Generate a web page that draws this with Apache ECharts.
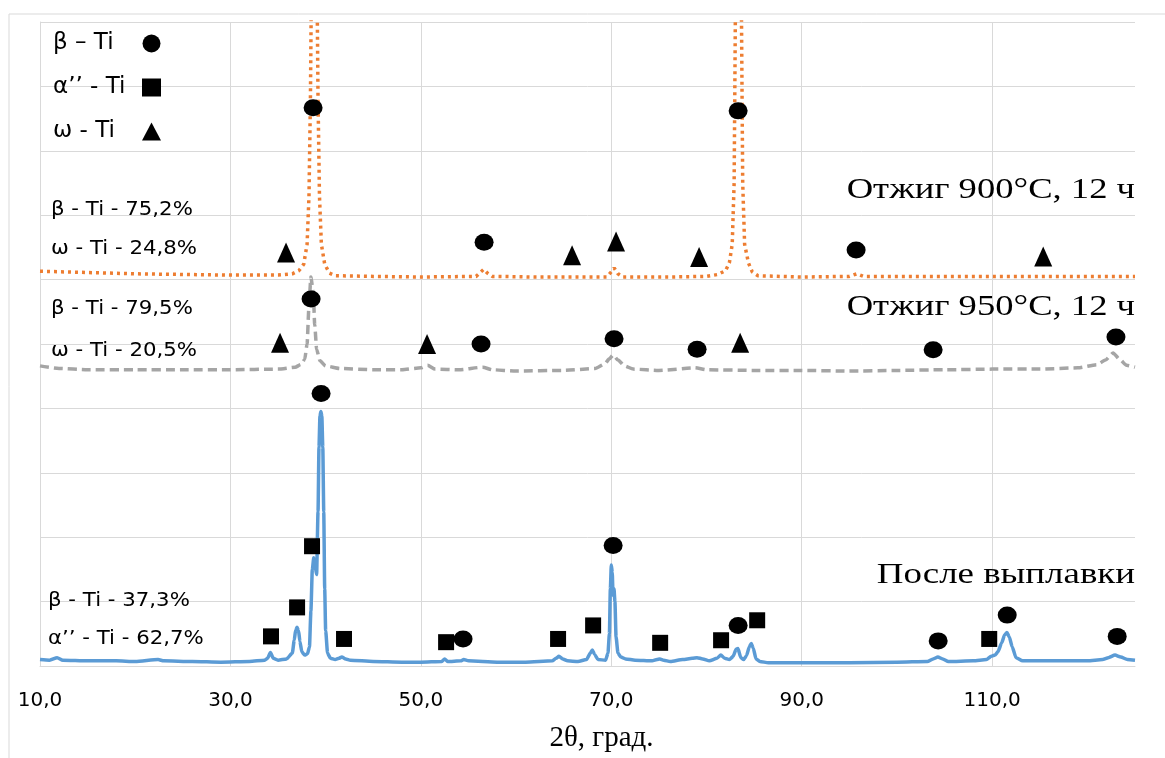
<!DOCTYPE html>
<html>
<head>
<meta charset="utf-8">
<script src="https://cdn.jsdelivr.net/npm/echarts@6/dist/echarts.min.js"></script>
<style>
  html, body { margin: 0; padding: 0; background: #fff; }
  #chart { width: 1165px; height: 758px; }
</style>
</head>
<body>
<div id="chart"></div>
<script>
// 2θ axis ticks
const xTicks = [10, 30, 50, 70, 90, 110];

// after melting (blue) : [2θ, intensity]
const afterMelt = [
  [10.0, 0.10], [11.0, 0.09], [11.8, 0.13], [12.4, 0.09], [15.0, 0.08], [18.0, 0.08], [20.0, 0.07],
  [22.4, 0.10], [23.0, 0.08], [26.0, 0.07], [29.0, 0.06], [32.0, 0.07], [33.6, 0.09], [33.9, 0.12],
  [34.2, 0.21], [34.5, 0.12], [35.0, 0.09], [35.9, 0.11], [36.5, 0.20], [36.7, 0.40], [36.85, 0.56],
  [37.0, 0.60], [37.15, 0.55], [37.3, 0.38], [37.5, 0.22], [37.8, 0.17], [38.1, 0.19], [38.3, 0.30],
  [38.45, 0.85], [38.6, 1.50], [38.75, 1.68], [38.9, 1.55], [39.05, 1.42], [39.2, 2.40], [39.3, 3.40],
  [39.4, 3.88], [39.5, 3.95], [39.6, 3.88], [39.7, 3.40], [39.8, 2.40], [39.9, 1.20], [40.0, 0.55],
  [40.2, 0.20], [40.5, 0.12], [41.0, 0.10], [41.4, 0.12], [41.7, 0.14], [42.1, 0.11], [42.6, 0.09],
  [45.0, 0.07], [48.0, 0.06], [50.0, 0.06], [52.2, 0.07], [52.5, 0.11], [52.8, 0.07], [54.2, 0.08],
  [54.5, 0.10], [55.0, 0.08], [58.0, 0.06], [61.0, 0.06], [63.8, 0.08], [64.2, 0.12], [64.5, 0.15],
  [64.9, 0.11], [65.4, 0.08], [66.5, 0.07], [67.4, 0.10], [67.8, 0.20], [68.0, 0.25], [68.25, 0.18],
  [68.6, 0.10], [69.4, 0.09], [69.65, 0.20], [69.8, 0.50], [69.9, 1.20], [70.0, 1.57], [70.1, 1.45],
  [70.18, 1.10], [70.28, 1.20], [70.38, 1.00], [70.5, 0.45], [70.7, 0.20], [71.0, 0.14], [71.5, 0.11],
  [72.5, 0.09], [74.3, 0.08], [74.8, 0.10], [75.1, 0.11], [75.5, 0.09], [76.2, 0.07], [77.5, 0.10],
  [78.5, 0.12], [79.0, 0.13], [79.6, 0.11], [80.3, 0.08], [81.1, 0.12], [81.5, 0.17], [81.9, 0.12],
  [82.4, 0.10], [82.8, 0.15], [83.1, 0.26], [83.3, 0.27], [83.6, 0.13], [83.9, 0.10], [84.2, 0.16],
  [84.5, 0.30], [84.7, 0.35], [84.9, 0.28], [85.2, 0.11], [85.6, 0.07], [86.5, 0.05], [90.0, 0.05],
  [95.0, 0.05], [100.0, 0.06], [103.2, 0.07], [103.8, 0.11], [104.3, 0.14], [104.8, 0.11], [105.4, 0.07],
  [108.0, 0.08], [109.4, 0.10], [109.9, 0.15], [110.3, 0.17], [110.6, 0.22], [111.0, 0.36], [111.3, 0.48],
  [111.55, 0.52], [111.8, 0.45], [112.1, 0.30], [112.5, 0.13], [113.2, 0.08], [117.0, 0.08],
  [120.0, 0.08], [121.6, 0.10], [122.2, 0.13], [122.9, 0.17], [123.5, 0.14], [124.2, 0.10], [125.0, 0.09]
];

// annealed 950°C (grey)
const anneal950 = [
  [10.0, 4.66], [12.0, 4.62], [15.0, 4.60], [20.0, 4.60], [25.0, 4.60], [30.0, 4.60], [35.0, 4.61],
  [36.8, 4.64], [37.4, 4.68], [37.8, 4.76], [38.05, 5.00], [38.25, 5.60], [38.45, 6.04], [38.7, 5.80],
  [38.85, 5.30], [39.05, 4.92], [39.4, 4.74], [40.0, 4.66], [41.5, 4.62], [45.0, 4.60], [48.0, 4.60],
  [50.0, 4.63], [50.7, 4.67], [51.5, 4.61], [54.0, 4.60], [56.5, 4.64], [57.5, 4.60], [60.0, 4.58],
  [65.0, 4.59], [68.3, 4.62], [69.3, 4.69], [69.8, 4.77], [70.2, 4.83], [70.7, 4.75], [71.4, 4.66],
  [72.3, 4.61], [75.0, 4.59], [78.8, 4.63], [80.0, 4.60], [85.0, 4.59], [90.0, 4.59], [95.0, 4.58],
  [100.0, 4.59], [105.0, 4.60], [110.0, 4.61], [115.0, 4.61], [119.0, 4.63], [121.0, 4.68], [121.9, 4.75],
  [122.7, 4.86], [123.4, 4.76], [124.1, 4.67], [125.0, 4.64]
];

// annealed 900°C (orange), two main peaks run off the top
const anneal900 = [
  [10.0, 6.13], [15.0, 6.11], [20.0, 6.09], [25.0, 6.08], [30.0, 6.07], [35.0, 6.07], [36.5, 6.09],
  [37.2, 6.14], [37.7, 6.24], [38.05, 6.55], [38.25, 7.30], [38.4, 8.80], [38.5, 10.5], [38.8, 30.0],
  [39.1, 10.5], [39.2, 8.80], [39.35, 7.30], [39.55, 6.55], [39.9, 6.24], [40.4, 6.10], [41.0, 6.06],
  [45.0, 6.05], [50.0, 6.04], [55.8, 6.05], [56.3, 6.12], [56.6, 6.16], [57.0, 6.10], [57.5, 6.05],
  [62.0, 6.04], [69.5, 6.04], [70.0, 6.12], [70.3, 6.18], [70.7, 6.09], [71.2, 6.04], [76.0, 6.04],
  [80.0, 6.05], [81.2, 6.08], [82.0, 6.14], [82.4, 6.26], [82.7, 6.55], [82.9, 7.50], [83.05, 10.5],
  [83.35, 30.0], [83.65, 10.5], [83.8, 7.50], [84.0, 6.55], [84.4, 6.26], [84.8, 6.12], [85.4, 6.06],
  [90.0, 6.04], [95.0, 6.05], [95.8, 6.09], [96.5, 6.05], [105.0, 6.05], [115.0, 6.05], [125.0, 6.05]
];

// phase markers
const betaPts = [
  [38.68, 8.67], [83.32, 8.62], [56.64, 6.58], [95.71, 6.46],
  [38.47, 5.70], [56.32, 5.00], [70.29, 5.08], [79.01, 4.92], [103.8, 4.91], [123.0, 5.11],
  [39.52, 4.23], [54.43, 0.42], [70.19, 1.87], [83.32, 0.63], [104.33, 0.39], [111.58, 0.79], [123.13, 0.46]
];
const alphaPts = [
  [38.57, 1.86], [37.0, 0.91], [34.26, 0.46], [41.93, 0.42], [52.65, 0.37], [64.41, 0.42],
  [68.09, 0.63], [75.13, 0.36], [81.53, 0.40], [85.32, 0.71], [109.69, 0.42]
];
const omegaPts = [
  [35.84, 6.42], [65.88, 6.38], [70.50, 6.59], [79.22, 6.35], [115.36, 6.36],
  [35.21, 5.02], [50.65, 5.00], [83.53, 5.02]
];

const phaseNames = ['β – Ti', 'α’’ - Ti', 'ω - Ti'];
const sans = 'DejaVu Sans';
const serif = 'Liberation Serif';

const chart = echarts.init(document.getElementById('chart'));

const note = (txt, x, y) => ({
  type: 'text', x: x, y: y, scaleX: 1.12, z: 20,
  style: { text: txt, font: '19px "' + sans + '"', fill: '#000', align: 'left', verticalAlign: 'middle' }
});
const tag = (txt, y, sx) => ({
  type: 'text', x: 1135, y: y, scaleX: sx, z: 20,
  style: { text: txt, font: '30px "' + serif + '"', fill: '#000', align: 'right', verticalAlign: 'middle' }
});

chart.setOption({
  animation: false,
  backgroundColor: '#fff',
  grid: { left: 40, right: 30, top: 22, bottom: 90 },
  legend: {
    data: [
      { name: phaseNames[0], icon: 'circle' },
      { name: phaseNames[1], icon: 'rect' },
      { name: phaseNames[2], icon: 'triangle' }
    ],
    orient: 'vertical',
    align: 'right',
    left: 53, top: 32,
    padding: 0,
    itemWidth: 19, itemHeight: 18, itemGap: 21,
    selectedMode: false,
    formatter: n => '{t|' + n + '}',
    textStyle: {
      lineHeight: 18,
      rich: { t: { width: 84, lineHeight: 18, align: 'left', fontSize: 23, fontFamily: sans, color: '#000' } }
    }
  },
  xAxis: {
    type: 'value',
    min: 10, max: 125, interval: 20,
    name: '2θ, град.',
    nameLocation: 'middle',
    nameGap: 58,
    nameTextStyle: { fontFamily: serif, fontSize: 29, color: '#000', padding: [0, 0, 0, 28] },
    axisLine: { show: true, lineStyle: { color: '#d9d9d9', width: 1 } },
    axisTick: { show: false },
    axisLabel: {
      margin: 25, fontSize: 20, fontFamily: sans, color: '#000', showMaxLabel: false,
      formatter: v => xTicks.indexOf(v) >= 0 ? v.toFixed(1).replace('.', ',') : ''
    },
    splitLine: { show: true, showMaxLine: false, lineStyle: { color: '#d9d9d9', width: 1 } }
  },
  yAxis: {
    type: 'value',
    min: 0, max: 10, interval: 1,
    axisLine: { show: true, lineStyle: { color: '#d9d9d9', width: 1 } },
    axisTick: { show: false },
    axisLabel: { show: false },
    splitLine: { show: true, lineStyle: { color: '#d9d9d9', width: 1 } }
  },
  series: [
    {
      name: 'После выплавки', type: 'line', data: afterMelt, showSymbol: false, z: 3,
      smooth: 0.2, smoothMonotone: 'x',
      lineStyle: { color: '#5b9bd5', width: 3.5, join: 'round' }
    },
    {
      name: 'Отжиг 950°C, 12 ч', type: 'line', data: anneal950, showSymbol: false, z: 3,
      smooth: 0.2, smoothMonotone: 'x',
      lineStyle: { color: '#a5a5a5', width: 3.5, type: [9, 5] }
    },
    {
      name: 'Отжиг 900°C, 12 ч', type: 'line', data: anneal900, showSymbol: false, z: 3,
      lineStyle: { color: '#ed7d31', width: 3.5, type: [3, 4] }
    },
    {
      name: phaseNames[0], type: 'scatter', data: betaPts, z: 5,
      symbol: 'circle', symbolSize: [19, 17], itemStyle: { color: '#000', opacity: 1 }
    },
    {
      name: phaseNames[1], type: 'scatter', data: alphaPts, z: 5,
      symbol: 'rect', symbolSize: [16, 16], itemStyle: { color: '#000', opacity: 1 }
    },
    {
      name: phaseNames[2], type: 'scatter', data: omegaPts, z: 5,
      symbol: 'triangle', symbolSize: [18, 20], itemStyle: { color: '#000', opacity: 1 }
    }
  ],
  graphic: [
    { type: 'rect', z: -10, shape: { x: 9, y: 14, width: 1180, height: 780 },
      style: { fill: 'none', stroke: '#d9d9d9', lineWidth: 1 } },
    note('β - Ti - 75,2%', 51, 210),
    note('ω - Ti - 24,8%', 51, 249),
    note('β - Ti - 79,5%', 51, 309),
    note('ω - Ti - 20,5%', 51, 351),
    note('β - Ti - 37,3%', 48, 601),
    note('α’’ - Ti - 62,7%', 48, 639),
    tag('Отжиг 900°C, 12 ч', 190, 1.22),
    tag('Отжиг 950°C, 12 ч', 307, 1.22),
    tag('После выплавки', 575, 1.23)
  ]
});
</script>
</body>
</html>
